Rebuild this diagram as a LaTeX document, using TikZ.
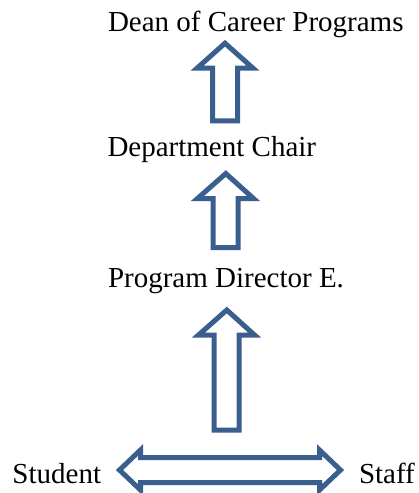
\documentclass[tikz,border=0pt]{standalone}
\usepackage{fontspec}
\setmainfont{Liberation Serif}
\usetikzlibrary{calc}

\definecolor{outlineblue}{HTML}{3A5E8E}

\tikzset{
  label/.style={anchor=base west, inner sep=0pt, outer sep=0pt,
    font=\fontsize{29}{35}\selectfont, text=black},
  blockarrow/.style={draw=outlineblue, fill=white, line width=5pt, line join=miter}
}

% upward block arrow from tail #1 to tip #2
\newcommand\blockup[2]{%
  \draw[blockarrow] let \p1=(#1), \p2=(#2) in
    (\x1-12.5pt,\y1) -- (\x1-12.5pt,\y2-25pt) -- (\x1-28pt,\y2-25pt) -- (\x2,\y2)
    -- (\x1+28pt,\y2-25pt) -- (\x1+12.5pt,\y2-25pt) -- (\x1+12.5pt,\y1) -- cycle;
}
% horizontal two-headed block arrow between tips #1 (left) and #2 (right)
\newcommand\blockboth[2]{%
  \draw[blockarrow] let \p1=(#1), \p2=(#2) in
    (\x1,\y1) -- (\x1+21pt,\y1+20pt) -- (\x1+21pt,\y1+12.5pt)
    -- (\x2-21pt,\y1+12.5pt) -- (\x2-21pt,\y1+20pt) -- (\x2,\y1)
    -- (\x2-21pt,\y1-20pt) -- (\x2-21pt,\y1-12.5pt)
    -- (\x1+21pt,\y1-12.5pt) -- (\x1+21pt,\y1-20pt) -- cycle;
}

\begin{document}
\begin{tikzpicture}[x=1pt, y=-1pt]
  \useasboundingbox (0,0) rectangle (419,493);

  % titles of the chain
  \node[label] (dean)     at (108,31)      {Dean of Career Programs};
  \node[label] (chair)    at (107.5,156.7) {Department Chair};
  \node[label] (director) at (108,287.3)   {Program Director E.};
  \node[label] (student)  at (12.5,483.3)  {Student};
  \node[label] (staff)    at (359,483.3)   {Staff};

  % arrow end points
  \coordinate (a1tail) at (225,120.8);
  \coordinate (a1tip)  at (225,43.2);
  \coordinate (a2tail) at (225.5,247.5);
  \coordinate (a2tip)  at (225.8,173.5);
  \coordinate (a3tail) at (226.5,430);
  \coordinate (a3tip)  at (226.8,310);
  \coordinate (bleft)  at (119.5,470);
  \coordinate (bright) at (340.5,470);

  \blockup{a1tail}{a1tip}
  \blockup{a2tail}{a2tip}
  \blockup{a3tail}{a3tip}
  \blockboth{bleft}{bright}
\end{tikzpicture}
\end{document}
